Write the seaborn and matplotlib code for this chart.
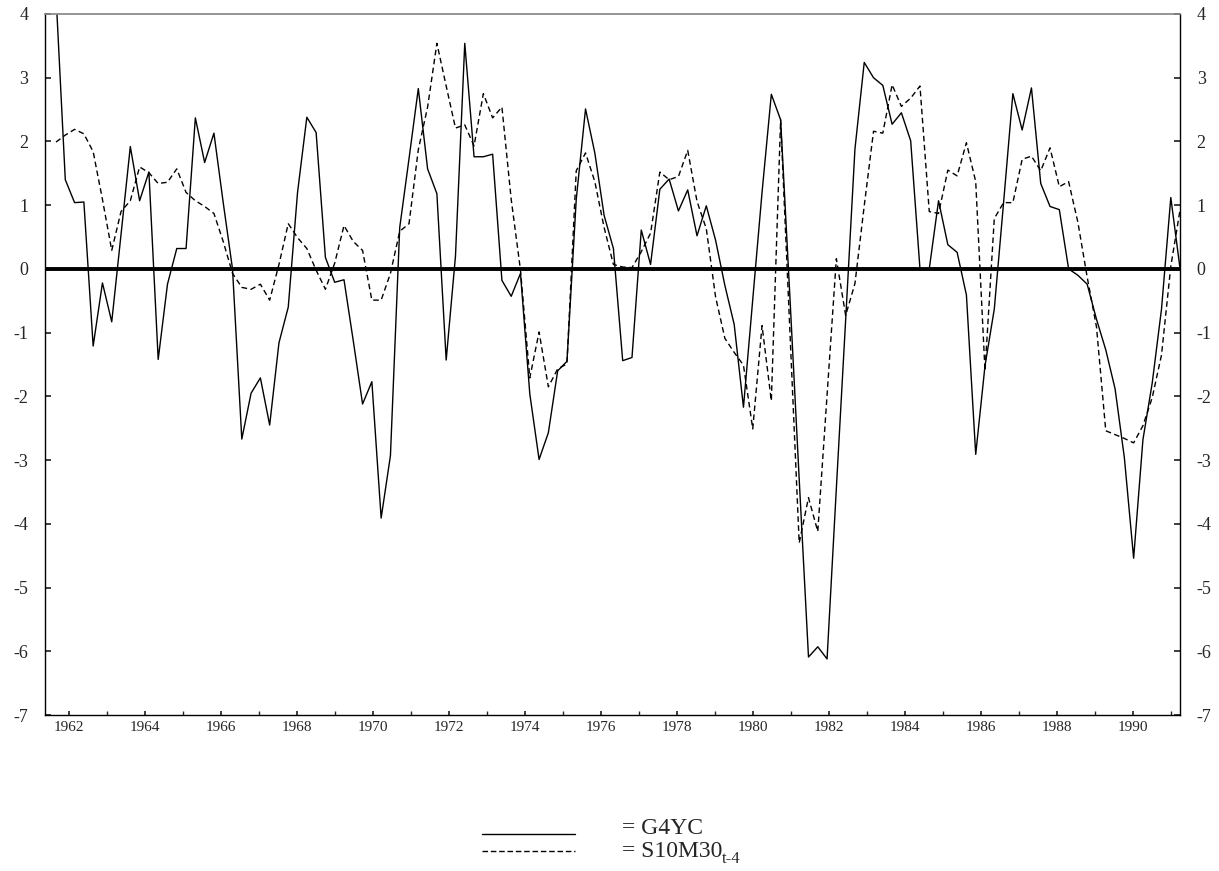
import numpy as np
import pandas as pd
import matplotlib
matplotlib.use("Agg")
import matplotlib.pyplot as plt
from matplotlib.lines import Line2D
import seaborn as sns

g4yc = [4.3, 1.40, 1.04, 1.05, -1.21, -0.22, -0.83, 0.54, 1.92, 1.07,
        1.52, -1.42, -0.24, 0.32, 0.32, 2.37, 1.67, 2.13, 1.04, 0.0,
        -2.67, -1.95, -1.71, -2.45, -1.16, -0.60, 1.20, 2.38, 2.14, 0.18,
        -0.21, -0.17, -1.13, -2.12, -1.77, -3.91, -2.93, 0.65, 1.73, 2.83,
        1.57, 1.18, -1.43, 0.20, 3.54, 1.76, 1.76, 1.80, -0.18, -0.43,
        -0.07, -1.96, -2.99, -2.57, -1.60, -1.45, 1.09, 2.51, 1.82, 0.84,
        0.32, -1.44, -1.39, 0.61, 0.07, 1.25, 1.41, 0.91, 1.24, 0.52,
        0.99, 0.45, -0.26, -0.87, -2.17, -0.48, 1.20, 2.74, 2.34, -0.44,
        -3.30, -6.09, -5.93, -6.12, -3.44, -0.80, 1.88, 3.24, 3.00, 2.88,
        2.27, 2.45, 2.01, 0.0, 0.0, 1.07, 0.38, 0.26, -0.41, -2.91,
        -1.52, -0.63, 1.04, 2.75, 2.18, 2.84, 1.34, 0.98, 0.93, 0.0,
        -0.10, -0.24, -0.79, -1.27, -1.88, -2.96, -4.54, -2.68, -1.79, -0.63,
        1.12, 0.0]

s10m30_lag4 = [1.99, 2.10, 2.19, 2.12, 1.84, 1.09, 0.29, 0.90, 1.07, 1.60,
               1.51, 1.34, 1.36, 1.57, 1.20, 1.07, 0.98, 0.87, 0.43, -0.07,
               -0.29, -0.32, -0.24, -0.49, 0.07, 0.71, 0.49, 0.32, -0.02, -0.32,
               0.09, 0.68, 0.43, 0.29, -0.49, -0.49, -0.07, 0.59, 0.71, 1.87,
               2.54, 3.54, 2.87, 2.21, 2.26, 1.93, 2.75, 2.37, 2.54, 1.09,
               -0.02, -1.71, -0.99, -1.85, -1.57, -1.49, 1.54, 1.82, 1.37, 0.65,
               0.07, 0.03, 0.02, 0.27, 0.56, 1.52, 1.40, 1.45, 1.86, 1.06,
               0.63, -0.44, -1.09, -1.31, -1.51, -2.51, -0.89, -2.07, 2.34, -0.98,
               -4.30, -3.59, -4.12, -1.98, 0.16, -0.73, -0.23, 0.99, 2.16, 2.13,
               2.89, 2.55, 2.68, 2.87, 0.90, 0.87, 1.55, 1.46, 1.98, 1.37,
               -1.60, 0.79, 1.04, 1.04, 1.72, 1.77, 1.54, 1.90, 1.29, 1.37,
               0.73, -0.13, -0.91, -2.54, -2.60, -2.66, -2.73, -2.46, -2.02, -1.35,
               0.04, 0.93]

years = list(range(1962, 1991, 2))
y_ticks = list(range(-7, 5))

df = pd.DataFrame({"q": np.arange(len(g4yc)), "G4YC": g4yc, "S10M30": s10m30_lag4})

sns.set_theme(style="ticks")
plt.rcParams["font.family"] = ["Liberation Serif", "DejaVu Serif"]

fig = plt.figure(figsize=(12.19, 8.71), dpi=100)
ax = fig.add_axes([45 / 1219, 1 - 715 / 871, 1135 / 1219, 701 / 871])

sns.lineplot(data=df, x="q", y="G4YC", ax=ax, color="black", linewidth=1.0)
sns.lineplot(data=df, x="q", y="S10M30", ax=ax, color="black", linewidth=1.0,
             linestyle=(0, (4, 2.5)))
ax.axhline(0, color="black", linewidth=2.8, zorder=1)

# quarter index -> pixel: 56 + 9.29*q ; year label -> pixel: 69 + 38*(Y-1962)
px_per_q = 9.29
ax.set_xlim(-(56 - 45) / px_per_q, (1180 - 56) / px_per_q)
ax.set_ylim(-7, 4)
year_pos = [(69 + 38 * (y - 1962) - 56) / px_per_q for y in years]
ax.set_xticks(year_pos)
ax.set_xticklabels([str(y) for y in years], fontsize=11)
ax.set_xticks([(69 + 38 * (y - 1962) - 56) / px_per_q for y in range(1962, 1992)], minor=True)
ax.set_yticks(y_ticks)
ax.set_yticklabels([str(v) for v in y_ticks], fontsize=13)
ax.tick_params(axis="y", direction="in", length=4, left=True, right=True,
               labelleft=True, labelright=True, pad=12)
ax.tick_params(axis="x", which="both", direction="in", length=3, pad=4)
ax.set_xlabel("")
ax.set_ylabel("")
for side in ["left", "right", "bottom"]:
    ax.spines[side].set_color("black")
    ax.spines[side].set_linewidth(1.0)
ax.spines["top"].set_color("#888888")

# legend below the plot
x0, x1 = 482 / 1219, 575 / 1219
fig.add_artist(Line2D([x0, x1], [1 - 834 / 871] * 2, color="black", linewidth=1.0))
fig.add_artist(Line2D([x0, x1], [1 - 851 / 871] * 2, color="black", linewidth=1.0,
                      linestyle=(0, (4, 2))))
fig.text(622 / 1219, 1 - 834 / 871, "= G4YC", fontsize=17, va="baseline")
fig.text(622 / 1219, 1 - 857 / 871, "= S10M30", fontsize=17, va="baseline")
fig.text(722 / 1219, 1 - 863 / 871, "t-4", fontsize=12, va="baseline")

fig.savefig("out.png", dpi=100)
